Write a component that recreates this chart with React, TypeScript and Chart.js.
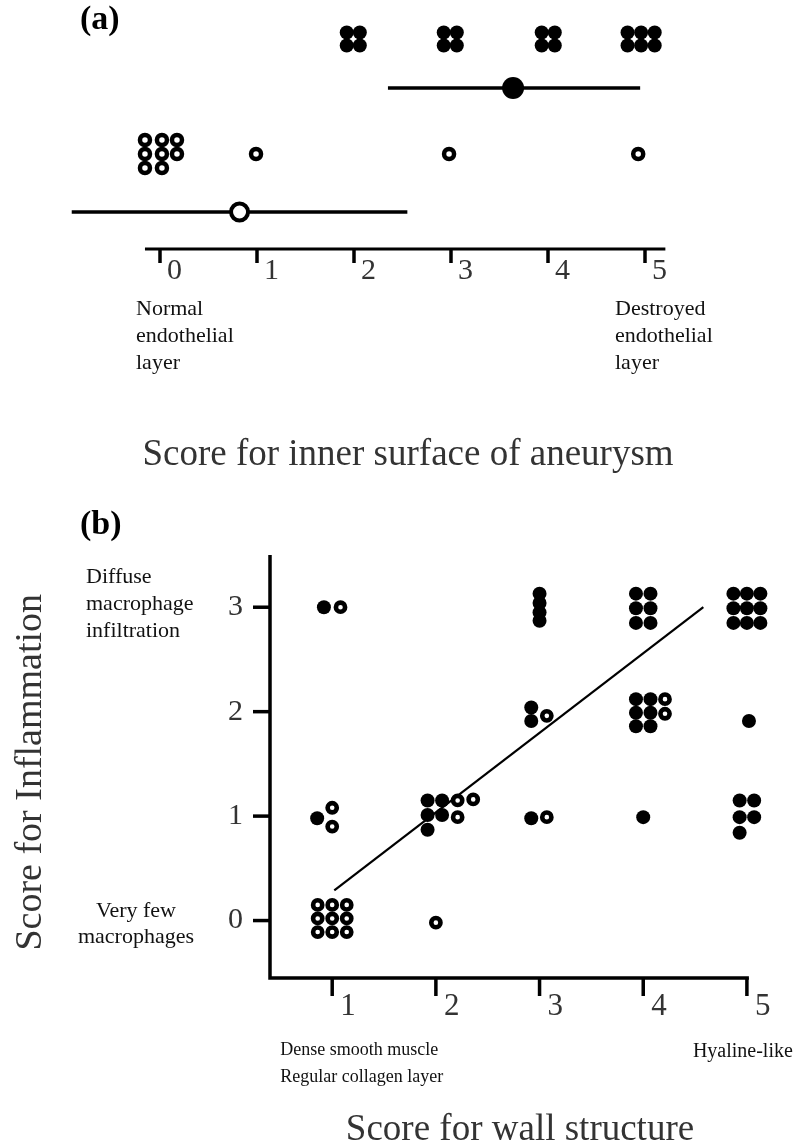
import React, { useEffect, useRef } from "react";
import { Chart, registerables } from "chart.js";

Chart.register(...registerables);

const SERIF = '"Liberation Serif", "Times New Roman", serif';
const INK = "#111111";
const GREY_INK = "#333333";

// ---------------- Panel (a) data ----------------
// x: score for inner surface (0..5); y: row level of each group (arbitrary units)
const A_TICKS = [0, 1, 2, 3, 4, 5];
const A_TICK_LABELS = ["0", "1", "2", "3", "4", "5"];
const A_FILLED_POINTS: [number, number][] = [
  [1.925, 21.65], [2.06, 21.65], [1.925, 20.35], [2.06, 20.35],
  [2.925, 21.65], [3.06, 21.65], [2.925, 20.35], [3.06, 20.35],
  [3.935, 21.65], [4.07, 21.65], [3.935, 20.35], [4.07, 20.35],
  [4.82, 21.65], [4.96, 21.65], [5.10, 21.65], [4.82, 20.35], [4.96, 20.35], [5.10, 20.35],
];
const A_OPEN_POINTS: [number, number][] = [
  [-0.155, 10.9], [0.02, 10.9], [0.175, 10.9],
  [-0.155, 9.5], [0.02, 9.5], [0.175, 9.5],
  [-0.155, 8.1], [0.02, 8.1],
  [0.99, 9.5], [2.98, 9.5], [4.93, 9.5],
];
const A_FILLED_MEAN: [number, number] = [3.64, 16.1];
const A_FILLED_SD: [number, number] = [2.35, 4.95];
const A_OPEN_MEAN: [number, number] = [0.82, 3.7];
const A_OPEN_SD: [number, number] = [-0.91, 2.55];
const A_AXIS_RANGE: [number, number] = [-0.155, 5.21];

// ---------------- Panel (b) data ----------------
const B_X_TICKS = [1, 2, 3, 4, 5];
const B_X_LABELS = ["1", "2", "3", "4", "5"];
const B_Y_TICKS = [0, 1, 2, 3];
const B_Y_LABELS = ["0", "1", "2", "3"];
const B_X_AXIS_END = 5.0;
const B_FILLED_POINTS: [number, number][] = [
  [0.92, 3.0], [0.855, 0.98],
  [1.92, 1.15], [2.06, 1.15], [1.92, 1.01], [2.06, 1.01], [1.92, 0.87],
  [3.0, 3.13], [3.0, 3.04], [3.0, 2.95], [3.0, 2.87],
  [2.92, 2.04], [2.92, 1.91],
  [2.92, 0.98],
  [3.93, 3.13], [4.07, 3.13], [3.93, 2.99], [4.07, 2.99], [3.93, 2.85], [4.07, 2.85],
  [3.93, 2.12], [4.07, 2.12], [3.93, 1.99], [4.07, 1.99], [3.93, 1.86], [4.07, 1.86],
  [4.0, 0.99],
  [4.87, 3.13], [5.0, 3.13], [5.13, 3.13], [4.87, 2.99], [5.0, 2.99], [5.13, 2.99], [4.87, 2.85], [5.0, 2.85], [5.13, 2.85],
  [5.02, 1.91],
  [4.93, 1.15], [5.07, 1.15], [4.93, 0.99], [5.07, 0.99], [4.93, 0.84],
];
const B_OPEN_POINTS: [number, number][] = [
  [1.08, 3.0],
  [1.0, 1.08], [1.0, 0.9],
  [0.86, 0.15], [1.0, 0.15], [1.14, 0.15],
  [0.86, 0.02], [1.0, 0.02], [1.14, 0.02],
  [0.86, -0.11], [1.0, -0.11], [1.14, -0.11],
  [2.0, -0.02],
  [2.21, 1.15], [2.36, 1.16], [2.21, 0.99],
  [3.07, 1.96], [3.07, 0.99],
  [4.21, 2.12], [4.21, 1.98],
];
const B_TREND: [number, number][] = [[1.02, 0.29], [4.58, 3.0]];

const toXY = (arr: [number, number][]) => arr.map(([x, y]) => ({ x, y }));

function drawText(
  ctx: CanvasRenderingContext2D,
  s: string,
  x: number,
  y: number,
  font: string,
  align: CanvasTextAlign = "left",
  baseline: CanvasTextBaseline = "alphabetic",
  color = INK
) {
  ctx.save();
  ctx.font = font;
  ctx.fillStyle = color;
  ctx.textAlign = align;
  ctx.textBaseline = baseline;
  ctx.fillText(s, x, y);
  ctx.restore();
}

const panelAPlugin = {
  id: "panelA",
  beforeDatasetsDraw(chart: any) {
    const ctx: CanvasRenderingContext2D = chart.ctx;
    const xs = chart.scales.x;
    const ys = chart.scales.y;
    const y0 = ys.getPixelForValue(0);
    ctx.save();
    ctx.strokeStyle = "#000";
    ctx.lineWidth = 3;
    ctx.beginPath();
    ctx.moveTo(xs.getPixelForValue(A_AXIS_RANGE[0]), y0);
    ctx.lineTo(xs.getPixelForValue(A_AXIS_RANGE[1]), y0);
    ctx.stroke();
    ctx.lineWidth = 3.5;
    A_TICKS.forEach((t, i) => {
      const px = xs.getPixelForValue(t);
      ctx.beginPath();
      ctx.moveTo(px, y0);
      ctx.lineTo(px, y0 + 14);
      ctx.stroke();
      drawText(ctx, A_TICK_LABELS[i], px + 7, y0 + 22, `30px ${SERIF}`, "left", "middle", GREY_INK);
    });
    ctx.restore();
  },
  afterDraw(chart: any) {
    const ctx: CanvasRenderingContext2D = chart.ctx;
    const xs = chart.scales.x;
    const ys = chart.scales.y;
    const y0 = ys.getPixelForValue(0);
    drawText(ctx, "(a)", 80, 20, `bold 34px ${SERIF}`, "left", "middle", "#000");
    const ann = `22px ${SERIF}`;
    const lx = xs.getPixelForValue(0) - 24;
    ["Normal", "endothelial", "layer"].forEach((s, i) => drawText(ctx, s, lx, y0 + 66 + i * 27, ann));
    const rx = xs.getPixelForValue(5) - 30;
    ["Destroyed", "endothelial", "layer"].forEach((s, i) => drawText(ctx, s, rx, y0 + 66 + i * 27, ann));
    drawText(ctx, "Score for inner surface of aneurysm", 408, y0 + 206, `37px ${SERIF}`, "center", "middle", GREY_INK);
  },
};

const panelBPlugin = {
  id: "panelB",
  beforeDatasetsDraw(chart: any) {
    const ctx: CanvasRenderingContext2D = chart.ctx;
    const xs = chart.scales.x;
    const ys = chart.scales.y;
    const { left, top, bottom } = chart.chartArea;
    const xEnd = xs.getPixelForValue(B_X_AXIS_END) + 2;
    ctx.save();
    ctx.strokeStyle = "#000";
    ctx.lineWidth = 3.5;
    ctx.beginPath();
    ctx.moveTo(left, top);
    ctx.lineTo(left, bottom);
    ctx.lineTo(xEnd, bottom);
    ctx.stroke();
    B_Y_TICKS.forEach((t, i) => {
      const py = ys.getPixelForValue(t);
      ctx.beginPath();
      ctx.moveTo(left - 17, py);
      ctx.lineTo(left, py);
      ctx.stroke();
      drawText(ctx, B_Y_LABELS[i], left - 27, py, `30px ${SERIF}`, "right", "middle", GREY_INK);
    });
    B_X_TICKS.forEach((t, i) => {
      const px = xs.getPixelForValue(t);
      ctx.beginPath();
      ctx.moveTo(px, bottom);
      ctx.lineTo(px, bottom + 18);
      ctx.stroke();
      drawText(ctx, B_X_LABELS[i], px + 8, bottom + 29, `31px ${SERIF}`, "left", "middle", GREY_INK);
    });
    ctx.restore();
  },
  afterDraw(chart: any) {
    const ctx: CanvasRenderingContext2D = chart.ctx;
    const xs = chart.scales.x;
    const ys = chart.scales.y;
    const { bottom } = chart.chartArea;
    drawText(ctx, "(b)", 80, 55, `bold 34px ${SERIF}`, "left", "middle", "#000");
    const ann = `22px ${SERIF}`;
    const y3 = ys.getPixelForValue(3);
    ["Diffuse", "macrophage", "infiltration"].forEach((s, i) => drawText(ctx, s, 86, y3 - 24 + i * 27, ann));
    const y0 = ys.getPixelForValue(0);
    drawText(ctx, "Very few", 136, y0 - 4, ann, "center");
    drawText(ctx, "macrophages", 136, y0 + 22, ann, "center");
    // rotated y title
    ctx.save();
    ctx.translate(31, ys.getPixelForValue(1.42));
    ctx.rotate(-Math.PI / 2);
    drawText(ctx, "Score for Inflammation", 0, 0, `38px ${SERIF}`, "center", "middle", GREY_INK);
    ctx.restore();
    const x1 = xs.getPixelForValue(1);
    drawText(ctx, "Dense smooth muscle", x1 - 52, bottom + 77, `18px ${SERIF}`);
    drawText(ctx, "Regular collagen layer", x1 - 52, bottom + 104, `18px ${SERIF}`);
    drawText(ctx, "Hyaline-like", xs.getPixelForValue(5) - 54, bottom + 79, `20px ${SERIF}`);
    drawText(ctx, "Score for wall structure", 520, bottom + 152, `37px ${SERIF}`, "center", "middle", GREY_INK);
  },
};

const baseOptions = {
  responsive: false,
  animation: false as const,
  events: [] as any[],
  plugins: { legend: { display: false }, tooltip: { enabled: false } },
};

function PanelA() {
  const ref = useRef<HTMLCanvasElement>(null);
  useEffect(() => {
    const chart = new Chart(ref.current as HTMLCanvasElement, {
      type: "scatter",
      data: {
        datasets: [
          {
            data: [{ x: A_FILLED_MEAN[0], y: A_FILLED_MEAN[1] }],
            pointRadius: 11, backgroundColor: "#000", borderColor: "#000", borderWidth: 0, clip: false, order: 0,
          },
          {
            data: [{ x: A_OPEN_MEAN[0], y: A_OPEN_MEAN[1] }],
            pointRadius: 8.5, backgroundColor: "#fff", borderColor: "#000", borderWidth: 4, clip: false, order: 0,
          },
          {
            data: toXY(A_FILLED_POINTS),
            pointRadius: 7, backgroundColor: "#000", borderColor: "#000", borderWidth: 0, clip: false, order: 1,
          },
          {
            data: toXY(A_OPEN_POINTS),
            pointRadius: 5, backgroundColor: "#fff", borderColor: "#000", borderWidth: 4.5, clip: false, order: 1,
          },
          {
            data: [{ x: A_FILLED_SD[0], y: A_FILLED_MEAN[1] }, { x: A_FILLED_SD[1], y: A_FILLED_MEAN[1] }],
            showLine: true, pointRadius: 0, borderColor: "#000", borderWidth: 3.5, clip: false, order: 2,
          },
          {
            data: [{ x: A_OPEN_SD[0], y: A_OPEN_MEAN[1] }, { x: A_OPEN_SD[1], y: A_OPEN_MEAN[1] }],
            showLine: true, pointRadius: 0, borderColor: "#000", borderWidth: 3.5, clip: false, order: 2,
          },
        ] as any,
      },
      options: {
        ...baseOptions,
        layout: { padding: { left: 63, right: 118.5, top: 19, bottom: 231 } },
        scales: {
          x: { type: "linear", min: -1, max: 5.5, display: false },
          y: { type: "linear", min: 0, max: 23, display: false },
        },
      } as any,
      plugins: [panelAPlugin],
    });
    return () => chart.destroy();
  }, []);
  return (
    <canvas
      ref={ref}
      width={812}
      height={480}
      style={{ position: "absolute", left: 0, top: 0, width: 812, height: 480 }}
    />
  );
}

function PanelB() {
  const ref = useRef<HTMLCanvasElement>(null);
  useEffect(() => {
    const chart = new Chart(ref.current as HTMLCanvasElement, {
      type: "scatter",
      data: {
        datasets: [
          {
            data: toXY(B_FILLED_POINTS),
            pointRadius: 7, backgroundColor: "#000", borderColor: "#000", borderWidth: 0, clip: false, order: 0,
          },
          {
            data: toXY(B_OPEN_POINTS),
            pointRadius: 4.6, backgroundColor: "#fff", borderColor: "#000", borderWidth: 4.6, clip: false, order: 0,
          },
          {
            data: toXY(B_TREND),
            showLine: true, pointRadius: 0, borderColor: "#000", borderWidth: 2.2, clip: false, order: 1,
          },
        ] as any,
      },
      options: {
        ...baseOptions,
        layout: { padding: { left: 270, right: 34, top: 85, bottom: 169 } },
        scales: {
          x: { type: "linear", min: 0.4, max: 5.3, display: false },
          y: { type: "linear", min: -0.55, max: 3.5, display: false },
        },
      } as any,
      plugins: [panelBPlugin],
    });
    return () => chart.destroy();
  }, []);
  return (
    <canvas
      ref={ref}
      width={812}
      height={677}
      style={{ position: "absolute", left: 0, top: 470, width: 812, height: 677 }}
    />
  );
}

export default function App() {
  return (
    <div style={{ position: "absolute", left: 0, top: 0, width: 812, height: 1147, background: "#fff" }}>
      <PanelA />
      <PanelB />
    </div>
  );
}
